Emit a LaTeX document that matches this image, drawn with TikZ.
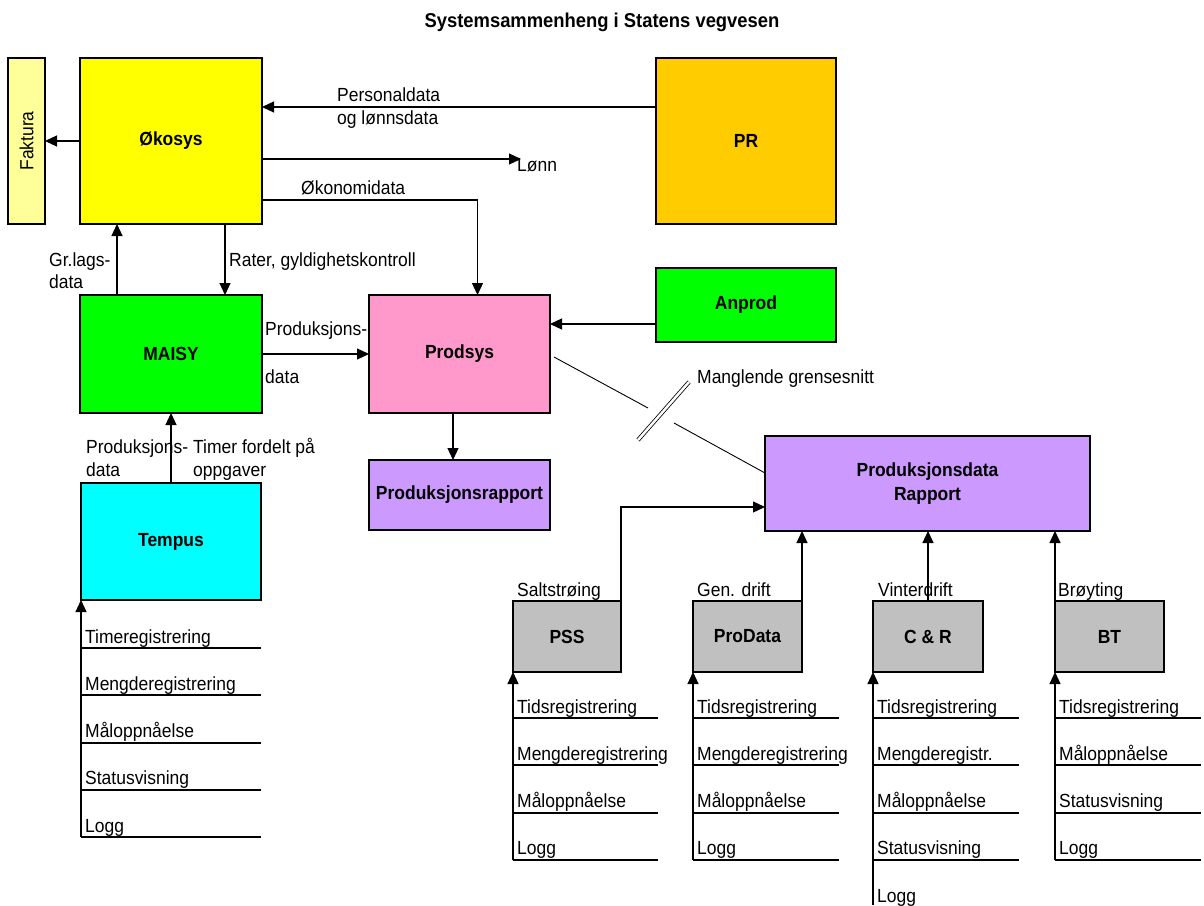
\documentclass[tikz,border=0pt]{standalone}
\usepackage{fontspec}
\setmainfont[FakeStretch=0.92]{Liberation Sans}
\usetikzlibrary{arrows.meta}
\definecolor{okoY}{HTML}{FFFF00}
\definecolor{fakY}{HTML}{FFFF99}
\definecolor{prO}{HTML}{FFCC00}
\definecolor{grn}{HTML}{00FF00}
\definecolor{pnk}{HTML}{FF99CC}
\definecolor{pur}{HTML}{CC99FF}
\definecolor{cyn}{HTML}{00FFFF}
\definecolor{gry}{HTML}{C0C0C0}
\newcommand\mysublist[5]{% #1 x, #2 prefix, #3 first line y, #4 width, #5 list
  \foreach \t [count=\i] in {#5}{%
    \pgfmathsetmacro\yy{#3+47.3*(\i-1)}%
    \draw[listline] (#1,\yy) -- ++(#4,0);
    \node[lab] (#2\i) at (#1+4,\yy-5) {\t};
  }}
\begin{document}
\begin{tikzpicture}[x=1pt,y=-1pt,
  box/.style={draw=black, line width=2.2pt, inner sep=0pt, outer sep=0pt,
    font=\fontsize{19}{24}\selectfont\bfseries, align=center},
  lab/.style={font=\fontsize{19}{22}\selectfont, inner sep=0pt, anchor=base west},
  arr/.style={line width=1.2pt, -{Triangle[length=12pt,width=11pt]}},
  conn/.style={line width=1.2pt},
  listline/.style={line width=2pt}]
\useasboundingbox[fill=white] (0,0) rectangle (1204,905);

\node[font=\fontsize{20}{24}\selectfont\bfseries, anchor=base, inner sep=0pt] (title) at (602,27) {Systemsammenheng i Statens vegvesen};

% boxes
\node[box, fill=fakY, minimum width=37pt, minimum height=166pt] (fak) at (26.5,141) {};
\node[rotate=90, font=\fontsize{19}{22}\selectfont, inner sep=0pt] (faktxt) at (fak.center) {Faktura};
\node[box, fill=okoY, minimum width=182pt, minimum height=166pt] (oko) at (171,141) {Økosys};
\node[box, fill=prO, minimum width=180pt, minimum height=166pt] (pr) at (746,141) {PR};
\node[box, fill=grn, minimum width=182pt, minimum height=118pt] (mai) at (171,354) {MAISY};
\node[box, fill=pnk, minimum width=181pt, minimum height=118pt] (prod) at (459.5,354) {Prodsys};
\node[box, fill=grn, minimum width=180pt, minimum height=74pt] (anp) at (746,305) {Anprod};
\node[box, fill=pur, minimum width=181pt, minimum height=70pt] (prap) at (459.5,495) {Produksjonsrapport};
\node[box, fill=pur, minimum width=325pt, minimum height=95pt] (pdr) at (927.5,483.5) {Produksjonsdata\\Rapport};
\node[box, fill=cyn, minimum width=180pt, minimum height=117pt] (tem) at (171,541.5) {Tempus};
\node[box, fill=gry, minimum width=108pt, minimum height=71pt] (pss) at (567,636.5) {PSS};
\node[box, fill=gry, minimum width=109pt, minimum height=71pt] (prd) at (747.5,636.5) {ProData};
\node[box, fill=gry, minimum width=110pt, minimum height=71pt] (cr) at (928,636.5) {C \& R};
\node[box, fill=gry, minimum width=109pt, minimum height=71pt] (bt) at (1109.5,636.5) {BT};

% connectors top area
\draw[arr] (oko.west) -- (fak.east);
\draw[arr] ([yshift=34pt]pr.west) coordinate (p1) -- (p1 -| oko.east);
\node[lab] (pers1) at (337,101) {Personaldata};
\node[lab] (pers2) at (337,124) {og lønnsdata};
\coordinate (lonnend) at (521,159);
\draw[arr] ([yshift=-18pt]oko.east) -- (lonnend);
\node[lab] (lonn) at (517,171) {Lønn};
\draw[arr] ([yshift=-59pt]oko.east) -| ([xshift=18pt]prod.north);
\node[lab] (okon) at (301,194) {Økonomidata};
\draw[arr] ([xshift=-54pt]mai.north) -- ([xshift=-54pt]oko.south);
\node[lab] (gr1) at (49,266) {Gr.lags-};
\node[lab] (gr2) at (49,288) {data};
\draw[arr] ([xshift=54pt]oko.south) -- ([xshift=54pt]mai.north);
\node[lab] (rater) at (229,266) {Rater, gyldighetskontroll};
\draw[arr] (mai.east) -- (prod.west);
\node[lab] (pd1) at (265,335) {Produksjons-};
\node[lab] (pd2) at (265,383) {data};
\draw[arr] ([yshift=-19pt]anp.west) coordinate (a1) -- (a1 -| prod.east);
\draw[arr] ([xshift=-6.5pt]prod.south) -- ([xshift=-6.5pt]prap.north);

% missing interface
\coordinate (mg1) at (648,408);
\coordinate (mg2) at (674,423);
\coordinate (sl1) at (638,440);
\coordinate (sl2) at (689,382);
\draw[conn, line width=0.9pt] ([xshift=4pt,yshift=-3pt]prod.east) -- (mg1);
\draw[conn, line width=0.9pt] (mg2) -- ([yshift=10.5pt]pdr.west);
\draw[line width=0.8pt, double, double distance=2.5pt] (sl1) -- (sl2);
\node[lab] (mangl) at (697,383) {Manglende grensesnitt};

% Tempus to MAISY
\draw[arr] (tem.north) -- (mai.south);
\node[lab] (tp1) at (86,453) {Produksjons-};
\node[lab] (tp2) at (86,476) {data};
\node[lab] (tt1) at (193,453) {Timer fordelt på};
\node[lab] (tt2) at (193,476) {oppgaver};

% into Produksjonsdata Rapport
\draw[arr] (pss.north east) |- ([yshift=-23.5pt]pdr.west);
\draw[arr] (prd.north east) -- (prd.north east |- pdr.south);
\draw[arr] (cr.north) -- (cr.north |- pdr.south);
\draw[arr] (bt.north west) -- (bt.north west |- pdr.south);
\node[lab] (salt) at (517,596) {Saltstrøing};
\node[lab] (gen) at (697,596) {Gen. drift};
\node[lab] (vint) at (878,596) {Vinterdrift};
\node[lab] (broy) at (1058,596) {Brøyting};

% lists
\mysublist{81}{tl}{648}{180}{Timeregistrering,Mengderegistrering,Måloppnåelse,Statusvisning,Logg}
\coordinate (tb) at (81,837);
\draw[arr] (tb) -- (tem.south west);

\mysublist{513}{pl}{718}{145}{Tidsregistrering,Mengderegistrering,Måloppnåelse,Logg}
\coordinate (pb) at (513,860);
\draw[arr] (pb) -- (pss.south west);

\mysublist{693}{dl}{718}{146}{Tidsregistrering,Mengderegistrering,Måloppnåelse,Logg}
\coordinate (db) at (693,860);
\draw[arr] (db) -- (prd.south west);

\mysublist{873}{cl}{718}{146}{Tidsregistrering,Mengderegistr.,Måloppnåelse,Statusvisning}
\node[lab] (cl5) at (877,902) {Logg};
\coordinate (cb) at (873,905);
\draw[arr] (cb) -- (cr.south west);

\mysublist{1055}{bl}{718}{146}{Tidsregistrering,Måloppnåelse,Statusvisning,Logg}
\coordinate (bb) at (1055,860);
\draw[arr] (bb) -- (bt.south west);
\end{tikzpicture}
\end{document}
